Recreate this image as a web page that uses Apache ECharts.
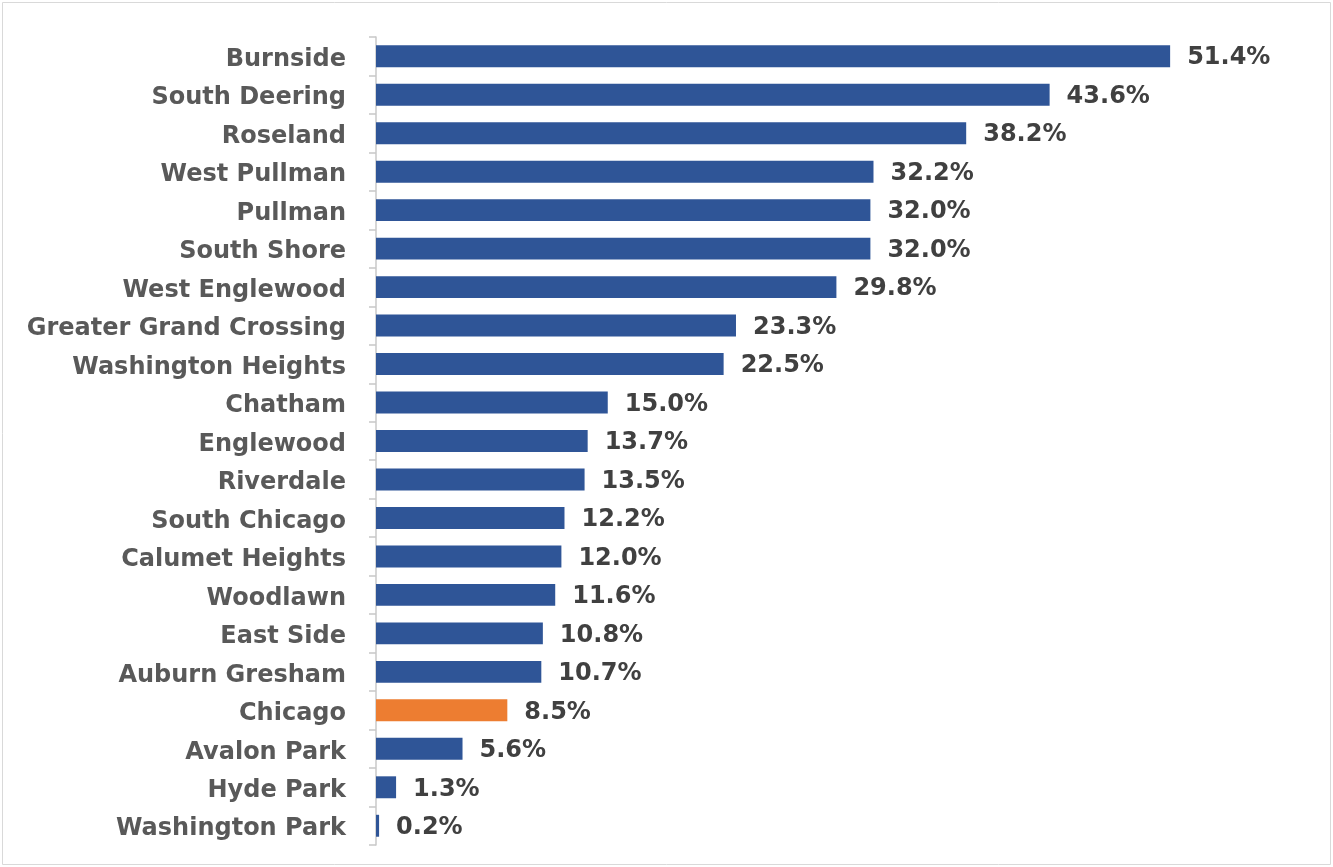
<!DOCTYPE html>
<html>
<head>
<meta charset="utf-8">
<script src="https://cdn.jsdelivr.net/npm/echarts@6/dist/echarts.min.js"></script>
<style>
  html, body { margin: 0; padding: 0; background: #fff; }
  #chart { width: 1333px; height: 867px; }
</style>
</head>
<body>
<div id="chart"></div>
<script>
// Community areas, listed top to bottom
const categories = [
  'Burnside', 'South Deering', 'Roseland', 'West Pullman', 'Pullman',
  'South Shore', 'West Englewood', 'Greater Grand Crossing', 'Washington Heights',
  'Chatham', 'Englewood', 'Riverdale', 'South Chicago', 'Calumet Heights',
  'Woodlawn', 'East Side', 'Auburn Gresham', 'Chicago', 'Avalon Park',
  'Hyde Park', 'Washington Park'
];
// Percent values per area
const values = [
  51.4, 43.6, 38.2, 32.2, 32.0, 32.0, 29.8, 23.3, 22.5, 15.0, 13.7,
  13.5, 12.2, 12.0, 11.6, 10.8, 10.7, 8.5, 5.6, 1.3, 0.2
];
// City-wide reference row gets its own colour
const highlight = 'Chicago';

const BLUE = '#2F5597';
const ORANGE = '#ED7D31';

const chart = echarts.init(document.getElementById('chart'));
chart.setOption({
  animation: false,
  backgroundColor: '#fff',
  graphic: [{
    type: 'rect',
    shape: { x: 2.5, y: 2.5, width: 1328, height: 862 },
    style: { fill: 'none', stroke: '#d9d9d9', lineWidth: 1 },
    silent: true
  }],
  grid: { left: 376, right: 30, top: 37, bottom: 22, containLabel: false },
  xAxis: {
    type: 'value', min: 0, max: 60, show: false,
    splitLine: { show: false }
  },
  yAxis: {
    type: 'category',
    inverse: true,
    data: categories,
    axisLine: { show: true, lineStyle: { color: '#c8c8c8', width: 1.5 } },
    axisTick: { show: true, length: 7, lineStyle: { color: '#c8c8c8', width: 1.5 } },
    axisLabel: {
      margin: 30,
      formatter: v => '{n|' + v + '}',
      rich: {
        n: {
          color: '#595959', fontFamily: 'DejaVu Sans', fontWeight: 'bold',
          fontSize: 24, padding: [7, 0, 0, 0]
        }
      }
    }
  },
  series: [{
    type: 'bar',
    barCategoryGap: '43%',
    data: values.map((v, i) => ({
      value: v,
      itemStyle: { color: categories[i] === highlight ? ORANGE : BLUE }
    })),
    label: {
      show: true, position: 'right', distance: 17, offset: [0, 2],
      color: '#404040', fontFamily: 'DejaVu Sans', fontWeight: 'bold', fontSize: 24,
      formatter: p => p.value.toFixed(1) + '%'
    }
  }]
});
</script>
</body>
</html>
